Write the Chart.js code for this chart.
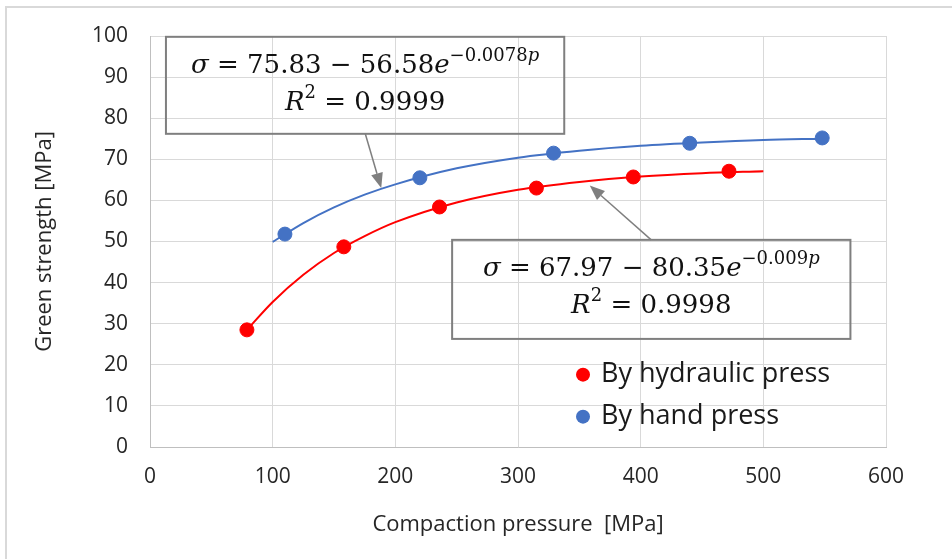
<!DOCTYPE html>
<html lang="en">
<head>
<meta charset="UTF-8">
<title>Green strength vs compaction pressure</title>
<script src="https://cdn.jsdelivr.net/npm/chart.js"></script>
<style>
  html, body { margin: 0; padding: 0; background: #fff; overflow: hidden; }
  .frame { position: absolute; left: 5px; top: 6px; width: 1000px; height: 600px; border: 2px solid #d9d9d9; }
  .chart-box { position: absolute; left: 0; top: 0; width: 952px; height: 559px; }
</style>
</head>
<body>
<div class="frame"></div>
<div class="chart-box"><canvas id="strengthChart"></canvas></div>

<script>
// measured points
const hydraulicPressure = [79, 158, 236, 315, 394, 472];
const hydraulicStrength = [28.5, 48.7, 58.4, 63.0, 65.7, 67.1];
const handPressure = [110, 220, 329, 440, 548];
const handStrength = [51.8, 65.5, 71.5, 73.9, 75.2];

// trend lines
const hydraulicFitX = [79, 100, 125, 150, 175, 200, 250, 300, 350, 400, 450, 500];
const hydraulicFitY = [28.5, 35.3, 41.9, 47.2, 51.3, 54.7, 59.5, 62.6, 64.5, 65.8, 66.6, 67.1];
const handFitX = [100, 125, 150, 175, 200, 250, 300, 350, 400, 450, 500, 548];
const handFitY = [49.9, 54.5, 58.3, 61.4, 63.9, 67.8, 70.4, 72.1, 73.3, 74.1, 74.7, 75.0];

const seriesNames = ['By hydraulic press', 'By hand press'];
const seriesColors = ['#ff0000', '#4472c4'];

const xLabel = 'Compaction pressure  [MPa]';
const yLabel = 'Green strength [MPa]';

const toPoints = (xs, ys) => xs.map((v, i) => ({ x: v, y: ys[i] }));

const serif = '"DejaVu Serif", "Liberation Serif", serif';
const big = '26px ' + serif, bigI = 'italic 26px ' + serif;
const sm = '18px ' + serif, smI = 'italic 18px ' + serif;

// equation boxes (corners in data units)
const notes = [
  {
    box: [13, 99.8, 337.7, 76.2],
    lines: [
      [{ t: 'σ', f: bigI }, { t: ' = 75.83 − 56.58', f: big }, { t: 'e', f: bigI },
       { t: '−0.0078', f: sm, r: 12 }, { t: 'p', f: smI, r: 12 }],
      [{ t: 'R', f: bigI }, { t: '2', f: sm, r: 12 }, { t: ' = 0.9999', f: big }]
    ],
    arrow: [175.5, 76.2, 188.5, 63.0]
  },
  {
    box: [246.3, 50.4, 571, 26.3],
    lines: [
      [{ t: 'σ', f: bigI }, { t: ' = 67.97 − 80.35', f: big }, { t: 'e', f: bigI },
       { t: '−0.009', f: sm, r: 12 }, { t: 'p', f: smI, r: 12 }],
      [{ t: 'R', f: bigI }, { t: '2', f: sm, r: 12 }, { t: ' = 0.9998', f: big }]
    ],
    arrow: [408.6, 50.4, 358.5, 63.6]
  }
];

function drawRich(ctx, parts, cx, baseY) {
  let total = 0;
  parts.forEach(p => { ctx.font = p.f; p.w = ctx.measureText(p.t).width; total += p.w; });
  let px = cx - total / 2;
  parts.forEach(p => {
    ctx.font = p.f;
    ctx.fillText(p.t, px, baseY - (p.r || 0));
    px += p.w;
  });
}

function drawArrow(ctx, x1, y1, x2, y2) {
  const ang = Math.atan2(y2 - y1, x2 - x1);
  const len = 15, half = 6;
  const bx = x2 - len * Math.cos(ang), by = y2 - len * Math.sin(ang);
  ctx.strokeStyle = '#7f7f7f';
  ctx.fillStyle = '#7f7f7f';
  ctx.lineWidth = 1.5;
  ctx.beginPath();
  ctx.moveTo(x1, y1);
  ctx.lineTo(bx, by);
  ctx.stroke();
  ctx.beginPath();
  ctx.moveTo(x2, y2);
  ctx.lineTo(bx + half * Math.sin(ang), by - half * Math.cos(ang));
  ctx.lineTo(bx - half * Math.sin(ang), by + half * Math.cos(ang));
  ctx.closePath();
  ctx.fill();
}

const notesPlugin = {
  id: 'notes',
  afterDatasetsDraw(chart) {
    const { ctx, scales: { x, y } } = chart;
    ctx.save();
    notes.forEach(n => {
      const l = x.getPixelForValue(n.box[0]), t = y.getPixelForValue(n.box[1]);
      const r = x.getPixelForValue(n.box[2]), b = y.getPixelForValue(n.box[3]);
      ctx.strokeStyle = '#7f7f7f';
      ctx.lineWidth = 2;
      ctx.strokeRect(l, t, r - l, b - t);
      ctx.fillStyle = '#111';
      ctx.textBaseline = 'alphabetic';
      ctx.textAlign = 'left';
      drawRich(ctx, n.lines[0], (l + r) / 2, t + 36);
      drawRich(ctx, n.lines[1], (l + r) / 2, t + 73);
      const a = n.arrow;
      drawArrow(ctx, x.getPixelForValue(a[0]), y.getPixelForValue(a[1]),
                x.getPixelForValue(a[2]), y.getPixelForValue(a[3]));
    });

    // legend inside the plot
    const lx = x.getPixelForValue(353), ly = y.getPixelForValue(17.6);
    ctx.font = '27px "Open Sans", sans-serif';
    ctx.textBaseline = 'middle';
    seriesNames.forEach((name, i) => {
      const yy = ly + i * 42;
      ctx.fillStyle = seriesColors[i];
      ctx.beginPath();
      ctx.arc(lx, yy, 7, 0, Math.PI * 2);
      ctx.fill();
      ctx.fillStyle = '#1a1a1a';
      ctx.fillText(name, lx + 18, yy);
    });
    ctx.restore();
  }
};

const tickFont = { family: '"Open Sans", sans-serif', size: 21 };
const titleFont = { family: '"Open Sans", sans-serif', size: 22 };

new Chart(document.getElementById('strengthChart'), {
  type: 'scatter',
  data: {
    datasets: [
      {
        label: seriesNames[0],
        data: toPoints(hydraulicPressure, hydraulicStrength),
        backgroundColor: seriesColors[0],
        borderColor: seriesColors[0],
        pointRadius: 7,
        order: 0
      },
      {
        label: seriesNames[1],
        data: toPoints(handPressure, handStrength),
        backgroundColor: seriesColors[1],
        borderColor: seriesColors[1],
        pointRadius: 7,
        order: 0
      },
      {
        label: 'hydraulic fit',
        data: toPoints(hydraulicFitX, hydraulicFitY),
        showLine: true,
        borderColor: seriesColors[0],
        borderWidth: 2,
        pointRadius: 0,
        cubicInterpolationMode: 'monotone',
        order: 1
      },
      {
        label: 'hand fit',
        data: toPoints(handFitX, handFitY),
        showLine: true,
        borderColor: seriesColors[1],
        borderWidth: 2,
        pointRadius: 0,
        cubicInterpolationMode: 'monotone',
        order: 1
      }
    ]
  },
  options: {
    responsive: true,
    maintainAspectRatio: false,
    animation: false,
    layout: { padding: { top: 36, right: 66, left: 0, bottom: 0 } },
    scales: {
      x: {
        type: 'linear',
        min: 0, max: 600,
        afterFit: s => { s.height = 112; },
        ticks: { stepSize: 100, font: tickFont, color: '#262626', padding: 17, maxRotation: 0 },
        grid: { color: '#d9d9d9', drawTicks: false },
        border: { color: '#bfbfbf' },
        title: { display: true, text: xLabel, font: titleFont, color: '#262626', padding: { bottom: 21 } }
      },
      y: {
        min: 0, max: 100,
        afterFit: s => { s.width = 150; },
        ticks: { stepSize: 10, font: tickFont, color: '#262626', padding: 22 },
        grid: { color: '#d9d9d9', drawTicks: false },
        border: { color: '#bfbfbf' },
        title: { display: true, text: yLabel, font: titleFont, color: '#262626', padding: { top: 32 } }
      }
    },
    plugins: {
      legend: { display: false },
      tooltip: { enabled: false }
    }
  },
  plugins: [notesPlugin]
});
</script>
</body>
</html>
